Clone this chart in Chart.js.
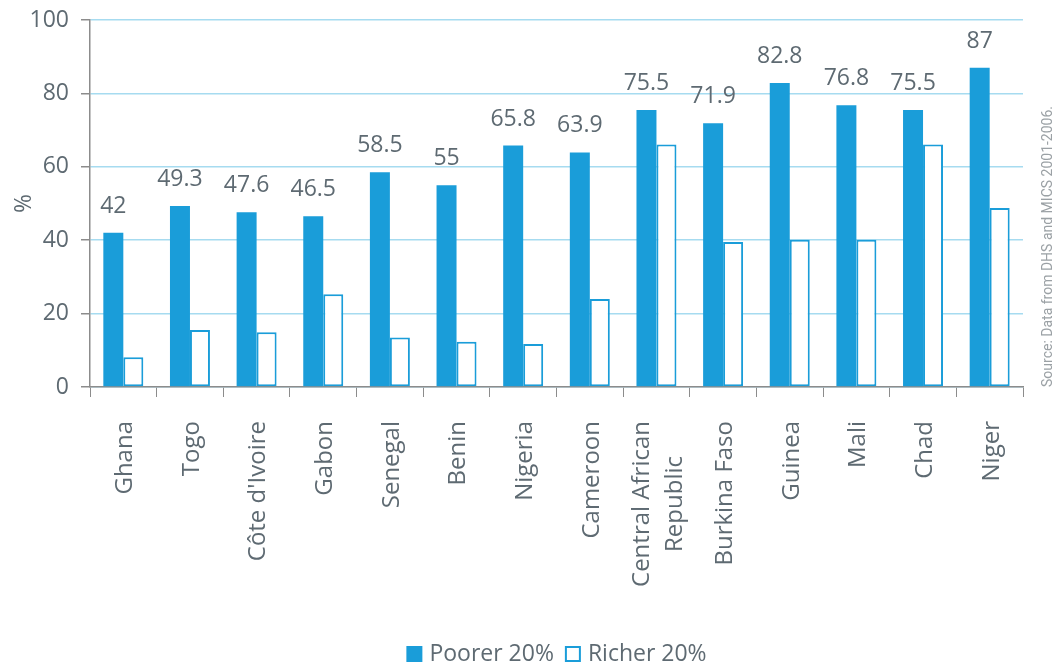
<!DOCTYPE html>
<html>
<head>
<meta charset="utf-8">
<script src="https://cdn.jsdelivr.net/npm/chart.js@4.4.1/dist/chart.umd.min.js"></script>
<style>
  html, body { margin: 0; padding: 0; background: #fff; }
  #wrap { width: 1057px; height: 668px; }
</style>
</head>
<body>
<div id="wrap"><canvas id="chart"></canvas></div>
<script>
// ---------- data ----------
const countries = ['Ghana', 'Togo', "Côte d'Ivoire", 'Gabon', 'Senegal', 'Benin', 'Nigeria',
    'Cameroon', ['Central African', 'Republic'], 'Burkina Faso', 'Guinea', 'Mali', 'Chad', 'Niger'];
const poorer = [42, 49.3, 47.6, 46.5, 58.5, 55, 65.8, 63.9, 75.5, 71.9, 82.8, 76.8, 75.5, 87];
const richer = [8.1, 15.5, 14.9, 25.3, 13.5, 12.3, 11.7, 24, 66.1, 39.5, 40.1, 40.1, 66.1, 48.8];
const yTicks = [0, 20, 40, 60, 80, 100];
const sourceNote = 'Source: Data from DHS and MICS 2001-2006.';

const BLUE = '#1a9dd9';
const TEXT = '#5e6a72';
const AXIS = '#8c8c8c';
const GRID = '#a6dbf0';
const FONT = '"Open Sans"';

// ---------- value labels above the poorer bars ----------
const valueLabels = {
    id: 'valueLabels',
    afterDatasetsDraw(chart) {
        const ctx = chart.ctx;
        const meta = chart.getDatasetMeta(0);
        ctx.save();
        ctx.font = '23px ' + FONT;
        ctx.fillStyle = TEXT;
        ctx.textAlign = 'center';
        ctx.textBaseline = 'alphabetic';
        meta.data.forEach((bar, i) => {
            ctx.fillText(String(poorer[i]), bar.x, bar.y - 20);
        });
        ctx.restore();
    }
};

// ---------- rotated category labels (multi-line ones centred) ----------
const categoryLabels = {
    id: 'categoryLabels',
    afterDraw(chart) {
        const ctx = chart.ctx;
        const xs = chart.scales.x;
        const top = xs.top + 34;
        const lh = 33;
        ctx.save();
        ctx.font = '24px ' + FONT;
        ctx.fillStyle = TEXT;
        ctx.textAlign = 'center';
        ctx.textBaseline = 'middle';
        countries.forEach((lab, i) => {
            const lines = Array.isArray(lab) ? lab : [lab];
            const maxW = Math.max(...lines.map(l => ctx.measureText(l).width));
            const x = xs.getPixelForTick(i) + 2;
            ctx.save();
            ctx.translate(x, top + maxW / 2);
            ctx.rotate(-Math.PI / 2);
            lines.forEach((l, j) => {
                ctx.fillText(l, 0, (j - (lines.length - 1) / 2) * lh);
            });
            ctx.restore();
        });
        ctx.restore();
    }
};

// ---------- legend drawn under the plot, centred on the plot area ----------
const bottomLegend = {
    id: 'bottomLegend',
    afterDraw(chart) {
        const ctx = chart.ctx;
        const area = chart.chartArea;
        const cy = 654;
        const box = 16, gap = 7, between = 11;
        ctx.save();
        ctx.font = '23px ' + FONT;
        ctx.textBaseline = 'middle';
        ctx.textAlign = 'left';
        const sets = chart.data.datasets;
        const widths = sets.map(d => ctx.measureText(d.label).width);
        const total = widths.reduce((a, w) => a + box + gap + w, 0) + between * (sets.length - 1);
        let x = (area.left + area.right) / 2 - total / 2;
        sets.forEach((d, i) => {
            ctx.fillStyle = d.backgroundColor;
            ctx.fillRect(x, cy - box / 2, box, box);
            if (d.borderWidth) {
                ctx.strokeStyle = d.borderColor;
                ctx.lineWidth = 2;
                ctx.strokeRect(x + 1, cy - box / 2 + 1, box - 2, box - 2);
            }
            ctx.fillStyle = TEXT;
            ctx.fillText(d.label, x + box + gap, cy);
            x += box + gap + widths[i] + between;
        });
        ctx.restore();
    }
};

// ---------- rotated source note on the right ----------
const sourceText = {
    id: 'sourceText',
    afterDraw(chart) {
        const ctx = chart.ctx;
        const bottom = chart.scales.y.getPixelForValue(0);
        ctx.save();
        ctx.translate(1048, bottom);
        ctx.rotate(-Math.PI / 2);
        ctx.font = '14px Roboto';
        ctx.fillStyle = '#9ba1a5';
        ctx.textAlign = 'left';
        ctx.textBaseline = 'middle';
        ctx.fillText(sourceNote, 0, 0);
        ctx.restore();
    }
};

new Chart(document.getElementById('chart'), {
    type: 'bar',
    data: {
        labels: countries,
        datasets: [{
            label: 'Poorer 20%',
            data: poorer,
            backgroundColor: BLUE,
            borderColor: BLUE,
            borderWidth: 0
        }, {
            label: 'Richer 20%',
            data: richer,
            backgroundColor: '#ffffff',
            borderColor: BLUE,
            borderWidth: 2,
            borderSkipped: false
        }]
    },
    options: {
        responsive: true,
        maintainAspectRatio: false,
        animation: false,
        datasets: {
            bar: { categoryPercentage: 0.6, barPercentage: 1 }
        },
        layout: { padding: { top: 20, right: 34, left: 0, bottom: 40 } },
        scales: {
            x: {
                grid: {
                    drawOnChartArea: false,
                    drawTicks: true,
                    tickLength: 10,
                    tickColor: AXIS,
                    offset: true
                },
                border: { color: AXIS, width: 1.5 },
                ticks: { display: false },
                afterFit(scale) { scale.height = 241; }
            },
            y: {
                min: 0,
                max: 100,
                afterBuildTicks(scale) { scale.ticks = yTicks.map(v => ({ value: v })); },
                grid: {
                    color: GRID,
                    lineWidth: 1.5,
                    tickColor: AXIS,
                    tickLength: 9
                },
                border: { color: AXIS, width: 1.5 },
                ticks: {
                    color: TEXT,
                    font: { family: 'Open Sans', size: 23 },
                    padding: 12
                },
                title: {
                    display: true,
                    text: '%',
                    color: TEXT,
                    font: { family: 'Open Sans', size: 23 },
                    padding: { top: 11, bottom: 0 }
                },
                afterFit(scale) {
                    scale.width = 90;
                    scale.paddingTop = 0;
                    scale.paddingBottom = 0;
                }
            }
        },
        plugins: {
            legend: { display: false },
            tooltip: { enabled: false }
        }
    },
    plugins: [valueLabels, categoryLabels, bottomLegend, sourceText]
});
</script>
</body>
</html>
